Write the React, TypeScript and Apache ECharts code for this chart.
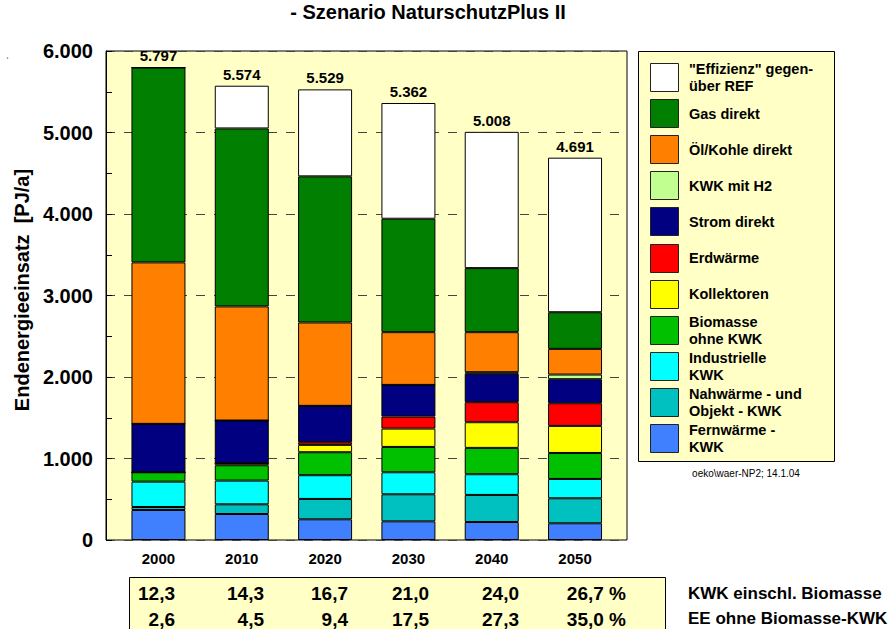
import React, { useEffect, useRef } from 'react';
import * as echarts from 'echarts';

const FONT = '"Liberation Sans", Arial, Helvetica, sans-serif';

const years = ['2000', '2010', '2020', '2030', '2040', '2050'];
const totals = [5797, 5574, 5529, 5362, 5008, 4691];

// stack order bottom -> top (PJ/a)
const fernwaerme = [368, 319, 254, 229, 221, 205];
const nahwaerme = [37, 119, 250, 332, 332, 307];
const industrie = [311, 291, 291, 270, 254, 237];
const biomasse = [115, 188, 282, 311, 323, 319];
const kollektoren = [0, 25, 90, 225, 315, 332];
const erdwaerme = [0, 0, 33, 147, 246, 278];
const strom = [594, 524, 446, 389, 348, 295];
const kwkH2 = [0, 0, 0, 0, 20, 57];
const oelKohle = [1981, 1400, 1023, 647, 491, 315];
const gas = [2391, 2184, 1793, 1392, 786, 450];
const effizienz = [0, 524, 1067, 1420, 1672, 1896];

const yTicks = [0, 1000, 2000, 3000, 4000, 5000, 6000];

const kwkShare = [12.3, 14.3, 16.7, 21.0, 24.0, 26.7];
const eeShare = [2.6, 4.5, 9.4, 17.5, 27.3, 35.0];
const tableLabels = ['KWK einschl. Biomasse', 'EE ohne Biomasse-KWK'];

const seriesDefs = [
  { name: 'Fernwärme - KWK', legend: ['Fernwärme -', 'KWK'], data: fernwaerme, color: '#4080FF' },
  { name: 'Nahwärme - und Objekt - KWK', legend: ['Nahwärme - und', 'Objekt - KWK'], data: nahwaerme, color: '#00C0C0' },
  { name: 'Industrielle KWK', legend: ['Industrielle', 'KWK'], data: industrie, color: '#00FFFF' },
  { name: 'Biomasse ohne KWK', legend: ['Biomasse', 'ohne KWK'], data: biomasse, color: '#00C000' },
  { name: 'Kollektoren', legend: ['Kollektoren'], data: kollektoren, color: '#FFFF00' },
  { name: 'Erdwärme', legend: ['Erdwärme'], data: erdwaerme, color: '#FF0000' },
  { name: 'Strom direkt', legend: ['Strom direkt'], data: strom, color: '#000080' },
  { name: 'KWK mit H2', legend: ['KWK mit H2'], data: kwkH2, color: '#C0FF90' },
  { name: 'Öl/Kohle direkt', legend: ['Öl/Kohle direkt'], data: oelKohle, color: '#FF8000' },
  { name: 'Gas direkt', legend: ['Gas direkt'], data: gas, color: '#007F00' },
  { name: '"Effizienz" gegenüber REF', legend: ['"Effizienz" gegen-', 'über REF'], data: effizienz, color: '#FFFFFF' },
];

const fmtThousands = (n: number) => String(n).replace(/\B(?=(\d{3})+(?!\d))/g, '.');
const fmtPct = (n: number) => n.toFixed(1).replace('.', ',');

export default function App() {
  const ref = useRef<HTMLDivElement>(null);

  useEffect(() => {
    const chart = echarts.init(ref.current!, null, { renderer: 'svg' });
    const BG = '#FFFFC6';
    const graphics: any[] = [];
    const txt = (x: number, y: number, text: string, size: number, align: string, bold = true, extra: any = {}) => ({
      type: 'text', x, y, ...extra,
      style: { text, fontFamily: FONT, fontSize: size, fontWeight: bold ? 'bold' : 'normal', fill: '#000', align, verticalAlign: 'middle', textAlign: align, textVerticalAlign: 'middle' },
    });

    graphics.push(txt(428, 12, '- Szenario NaturschutzPlus II', 20, 'center'));
    graphics.push(txt(22, 290, 'Endenergieeinsatz  [PJ/a]', 20, 'center', true, { rotation: Math.PI / 2 }));
    graphics.push({ type: 'circle', shape: { cx: 7.5, cy: 58, r: 0.8 }, style: { fill: '#999' } });

    // legend box
    graphics.push({ type: 'rect', shape: { x: 638.5, y: 51.5, width: 196, height: 410 }, style: { fill: BG, stroke: '#000', lineWidth: 1 } });
    const legendOrder = seriesDefs.slice().reverse();
    legendOrder.forEach((s, i) => {
      const top = 63 + i * 36.1;
      const mid = top + 14.5;
      graphics.push({ type: 'rect', shape: { x: 650.5, y: Math.round(top) + 0.5, width: 28, height: 28 }, style: { fill: s.color, stroke: '#222', lineWidth: 1 } });
      if (s.legend.length === 1) {
        graphics.push(txt(689, mid, s.legend[0], 14.5, 'left'));
      } else {
        graphics.push(txt(689, mid - 8.5, s.legend[0], 14.5, 'left'));
        graphics.push(txt(689, mid + 8.5, s.legend[1], 14.5, 'left'));
      }
    });
    graphics.push(txt(746, 473, 'oeko\\waer-NP2; 14.1.04', 10, 'center', false));

    // bottom table
    graphics.push({ type: 'rect', shape: { x: 129.5, y: 577.5, width: 536, height: 80 }, style: { fill: BG, stroke: '#000', lineWidth: 1 } });
    const colRight = [175, 264, 348, 429, 519, 626];
    [kwkShare, eeShare].forEach((row, r) => {
      row.forEach((v, i) => {
        graphics.push(txt(colRight[i], r === 0 ? 593 : 619, fmtPct(v) + (i === row.length - 1 ? ' %' : ''), 19, 'right'));
      });
      graphics.push(txt(688, r === 0 ? 593 : 618, tableLabels[r], 17, 'left'));
    });

    const series: any[] = seriesDefs.map((s, idx) => ({
      type: 'bar',
      name: s.name,
      stack: 'total',
      xAxisIndex: 1,
      yAxisIndex: 1,
      barWidth: 54,
      data: s.data,
      itemStyle: { color: s.color, borderColor: '#000', borderWidth: 1 },
      emphasis: { disabled: true },
      label: idx === seriesDefs.length - 1 ? {
        show: true, position: 'top', distance: 4,
        formatter: (p: any) => fmtThousands(totals[p.dataIndex]),
        fontFamily: FONT, fontSize: 15, fontWeight: 'bold', color: '#000',
      } : { show: false },
    }));

    chart.setOption({
      animation: false,
      backgroundColor: '#fff',
      textStyle: { fontFamily: FONT },
      grid: [
        { left: 106, right: 265, top: 51, bottom: 89, show: true, backgroundColor: BG, borderColor: '#000', borderWidth: 1 },
        { left: 116.8, right: 275.3, top: 51, bottom: 89 },
      ],
      xAxis: [
        { type: 'category', gridIndex: 0, data: years, show: false },
        {
          type: 'category', gridIndex: 1, data: years,
          axisLine: { show: false }, axisTick: { show: false },
          axisLabel: { fontFamily: FONT, fontSize: 15, fontWeight: 'bold', color: '#000', margin: 11 },
        },
      ],
      yAxis: [
        {
          type: 'value', gridIndex: 0, min: yTicks[0], max: yTicks[yTicks.length - 1], interval: 1000,
          axisLine: { show: true, lineStyle: { color: '#000' } },
          axisTick: { show: true, inside: true, length: 6, lineStyle: { color: '#000' } },
          minorTick: { show: true, splitNumber: 2, length: 6, lineStyle: { color: '#000' } },
          splitLine: { show: true, lineStyle: { color: '#444', type: [9, 9], width: 1 } },
          axisLabel: { formatter: (v: number) => fmtThousands(v), fontFamily: FONT, fontSize: 20, fontWeight: 'bold', color: '#000', margin: 13 },
        },
        { type: 'value', gridIndex: 1, min: yTicks[0], max: yTicks[yTicks.length - 1], show: false, splitLine: { show: false } },
      ],
      series,
      graphic: graphics,
    });
    return () => chart.dispose();
  }, []);

  return <div ref={ref} style={{ position: 'fixed', left: 0, top: 0, width: 892, height: 629, background: '#fff' }} />;
}
